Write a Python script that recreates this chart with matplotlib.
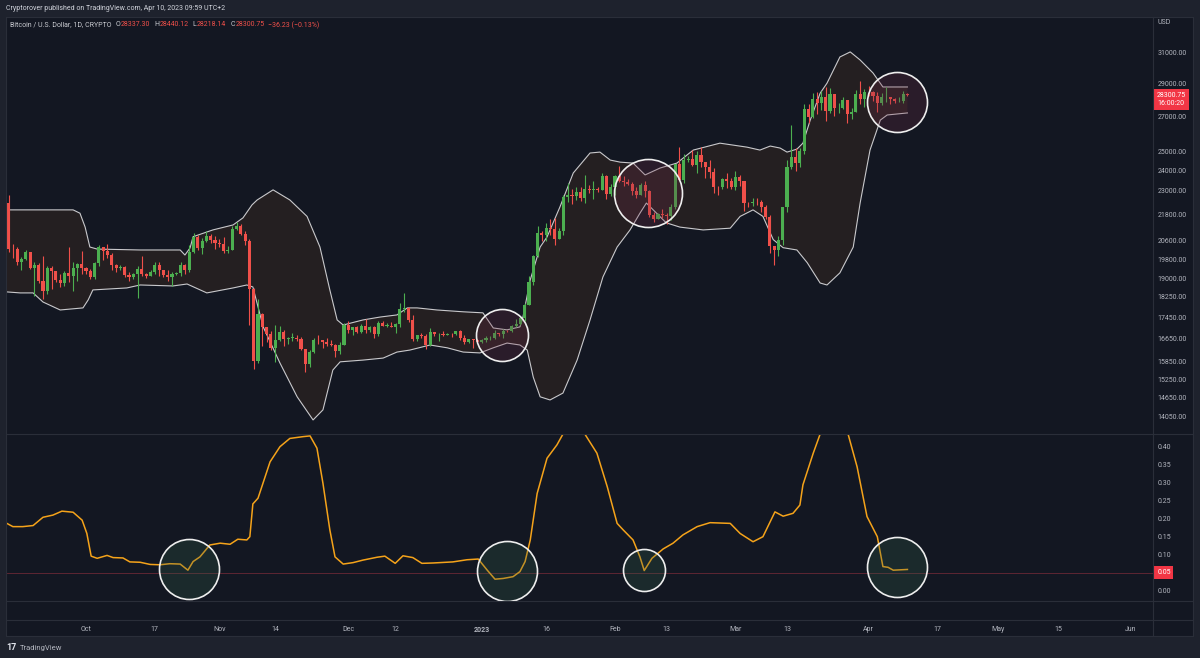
import numpy as np
import pandas as pd
import matplotlib
matplotlib.use('Agg')
import matplotlib.pyplot as plt
from matplotlib.ticker import FixedLocator, NullLocator, FuncFormatter, NullFormatter
from matplotlib.transforms import blended_transform_factory
from matplotlib.patches import Rectangle
from matplotlib.lines import Line2D

plt.rcParams['font.family'] = ['Roboto', 'DejaVu Sans']

W, H = 1200, 658
BG = '#131722'
FRAME = '#1e222d'
SEP = '#2a2e39'
TXT = '#b2b5be'
UP = '#4caf50'
DN = '#f0504a'

# daily candles, Sep 13 2022 .. Apr 10 2023
dates = pd.date_range('2022-09-13', '2023-04-10', freq='D')
base = pd.Timestamp('2022-10-01')

sep_o = [22390, 20250, 20230, 19700, 19800, 20110, 19420, 19540, 18880, 18490, 19410, 19290, 18920, 18800, 19220, 19080, 19410, 19590]
sep_h = [22780, 20480, 20350, 19890, 20190, 20110, 19680, 19620, 19950, 19490, 19490, 19310, 19170, 19310, 20340, 19680, 19620, 20170]
sep_l = [20120, 19870, 19570, 19330, 19760, 19390, 18270, 18790, 18150, 18370, 18540, 18840, 18630, 18690, 18840, 18480, 18890, 19180]
sep_c = [20250, 20230, 19700, 19800, 20110, 19420, 19540, 18880, 18490, 19410, 19290, 18920, 18800, 19220, 19080, 19410, 19590, 19430]

oct_o = [19430, 19310, 19060, 19620, 20340, 20160, 19960, 19530, 19420, 19450, 19130, 19060, 19160, 19380, 19180, 19070, 19270, 19550, 19330, 19120, 19040, 19170, 19210, 19570, 19330, 20090, 20770, 20290, 20600, 20810, 20630]
oct_h = [19480, 19400, 19690, 20440, 20350, 20450, 20050, 19600, 19550, 19520, 19250, 19220, 19500, 19950, 19230, 19360, 19670, 19700, 19350, 19340, 19250, 19250, 19700, 19600, 20400, 20980, 20860, 20740, 21070, 20900, 20840]
oct_l = [19160, 18960, 18970, 19500, 19760, 19860, 19340, 19260, 19320, 19030, 18870, 18980, 18200, 19080, 18990, 19070, 19160, 19100, 19060, 18900, 18660, 19120, 19080, 19160, 19250, 20060, 20220, 20020, 20560, 20520, 20240]
oct_c = [19310, 19060, 19620, 20340, 20160, 19960, 19530, 19420, 19450, 19130, 19060, 19160, 19380, 19180, 19070, 19270, 19550, 19330, 19120, 19040, 19170, 19210, 19570, 19330, 20090, 20770, 20290, 20600, 20810, 20630, 20490]

nov_o = [20490, 20480, 20150, 20210, 21150, 21300, 20920, 20600, 18540, 15880, 17590, 17070, 16810, 16330, 16620, 16900, 16660, 16690, 16700, 16630, 16290, 15780, 16190, 16610, 16600, 16520, 16460, 16440, 16220, 16440]
nov_h = [20690, 20800, 20380, 21300, 21470, 21360, 21050, 20670, 18590, 18150, 17620, 17070, 16920, 17150, 17120, 16960, 16730, 16880, 16800, 16720, 16300, 16250, 16700, 16800, 16610, 16680, 16600, 16480, 16540, 17240]
nov_l = [20350, 20070, 20060, 20190, 21090, 20890, 20400, 17170, 15590, 15800, 16380, 16550, 16240, 15820, 16560, 16400, 16460, 16570, 16560, 16240, 15480, 15650, 16160, 16460, 16340, 16400, 16400, 16000, 16110, 16430]
nov_c = [20480, 20150, 20210, 21150, 21300, 20920, 20600, 18540, 15880, 17590, 17070, 16810, 16330, 16620, 16900, 16660, 16690, 16700, 16630, 16290, 15780, 16190, 16610, 16600, 16520, 16460, 16440, 16220, 16440, 17170]

dec_o = [17170, 16980, 17090, 16890, 17110, 16970, 17090, 16840, 17230, 17130, 17130, 17090, 17210, 17780, 17810, 17360, 16630, 16780, 16740, 16440, 16900, 16820, 16830, 16780, 16840, 16830, 16920, 16700, 16550, 16630, 16600]
dec_h = [17310, 17100, 17140, 17190, 17400, 17110, 17140, 17300, 17300, 17230, 17270, 17240, 18000, 18390, 17840, 17530, 16800, 16860, 16810, 17040, 16900, 16860, 16950, 16860, 16860, 16940, 16960, 16780, 16650, 16640, 16640]
dec_l = [16880, 16800, 16870, 16880, 16870, 16910, 16680, 16740, 17110, 17090, 17070, 16880, 17090, 17670, 17290, 16570, 16590, 16670, 16290, 16400, 16760, 16560, 16760, 16780, 16730, 16780, 16600, 16470, 16490, 16340, 16500]
dec_c = [16980, 17090, 16890, 17110, 16970, 17090, 16840, 17230, 17130, 17130, 17090, 17210, 17780, 17810, 17360, 16630, 16780, 16740, 16440, 16900, 16820, 16830, 16780, 16840, 16830, 16920, 16700, 16550, 16630, 16600, 16540]

jan_o = [16540, 16620, 16680, 16680, 16850, 16830, 16950, 16940, 17120, 17180, 17440, 17940, 18850, 19930, 20950, 20880, 21180, 21130, 20680, 21070, 22670, 22780, 22710, 22920, 22620, 23060, 23010, 23080, 23030, 23740, 22830]
jan_h = [16630, 16760, 16760, 16980, 16880, 17020, 16960, 17170, 17390, 17490, 17990, 19100, 19960, 21260, 21040, 21440, 21620, 21650, 21190, 22740, 23350, 23060, 23160, 23140, 23780, 23260, 23460, 23160, 23900, 23800, 23290]
jan_l = [16500, 16550, 16610, 16660, 16750, 16680, 16900, 16910, 17100, 17150, 17320, 17920, 18720, 19890, 20600, 20610, 20860, 20410, 20670, 20870, 22420, 22320, 22540, 22470, 22370, 22870, 22580, 22890, 23000, 22580, 22730]
jan_c = [16620, 16680, 16680, 16850, 16830, 16950, 16940, 17120, 17180, 17440, 17940, 18850, 19930, 20950, 20880, 21180, 21130, 20680, 21070, 22670, 22780, 22710, 22920, 22620, 23060, 23010, 23080, 23030, 23740, 22830, 23140]

feb_o = [23140, 23730, 23490, 23430, 23330, 22940, 22760, 23240, 22960, 21800, 21630, 21860, 21790, 21770, 22200, 24330, 23520, 24570, 24630, 24280, 24840, 24440, 24190, 23940, 23180, 23160, 23550, 23490]
feb_h = [23780, 24230, 23710, 23580, 23420, 23160, 23360, 23450, 22990, 21930, 21900, 22080, 21890, 22310, 24370, 25250, 24880, 24760, 25130, 25070, 25250, 24470, 24590, 24130, 23200, 23640, 23860, 23600]
feb_l = [22780, 23430, 23230, 23260, 22760, 22640, 22750, 22680, 21700, 21480, 21600, 21640, 21370, 21540, 22060, 23500, 23380, 24460, 24250, 23880, 24170, 23610, 23640, 22860, 22750, 23070, 23110, 23040]
feb_c = [23730, 23490, 23430, 23330, 22940, 22760, 23240, 22960, 21800, 21630, 21860, 21790, 21770, 22200, 24330, 23520, 24570, 24630, 24280, 24840, 24440, 24190, 23940, 23180, 23160, 23550, 23490, 23150]

mar_o = [23150, 23650, 23470, 22360, 22350, 22430, 22410, 22200, 21700, 20360, 20190, 20630, 22160, 24200, 24750, 24380, 25050, 27420, 26960, 28040, 27780, 28180, 27300, 28350, 27490, 27490, 27990, 27140, 27270, 28350, 28030]
mar_h = [23960, 23780, 23480, 22410, 22620, 22600, 22540, 22270, 21810, 20380, 20840, 22180, 24540, 26500, 25230, 25200, 27770, 27730, 28440, 28480, 28530, 28780, 28720, 28380, 27780, 28180, 28000, 27510, 28630, 29170, 28650]
mar_l = [23030, 23210, 21990, 22160, 22220, 22280, 21950, 21610, 20050, 19570, 19920, 20440, 21920, 24090, 23960, 24200, 24900, 26630, 26910, 27160, 27370, 26720, 27180, 27050, 27200, 27440, 26600, 26830, 27250, 27750, 27560]
mar_c = [23650, 23470, 22360, 22350, 22430, 22410, 22200, 21700, 20360, 20190, 20630, 22160, 24200, 24750, 24380, 25050, 27420, 26960, 28040, 27780, 28180, 27300, 28350, 27490, 27490, 27990, 27140, 27270, 28350, 28030, 28480]

apr_o = [28480, 28450, 28200, 27800, 28170, 28180, 28040, 27920, 27950, 28337.30]
apr_h = [28820, 28530, 28480, 28440, 28770, 28190, 28100, 28170, 28530, 28440.12]
apr_l = [28260, 27900, 27280, 27680, 27840, 27730, 27780, 27880, 27800, 28218.14]
apr_c = [28450, 28200, 27800, 28170, 28180, 28040, 27920, 27950, 28337.30, 28300.75]

opens = sep_o + oct_o + nov_o + dec_o + jan_o + feb_o + mar_o + apr_o
highs = sep_h + oct_h + nov_h + dec_h + jan_h + feb_h + mar_h + apr_h
lows = sep_l + oct_l + nov_l + dec_l + jan_l + feb_l + mar_l + apr_l
closes = sep_c + oct_c + nov_c + dec_c + jan_c + feb_c + mar_c + apr_c

# bollinger band outline (days from Oct 1, price)
upper_days = [-18.4, -3.0, -1.4, -0.2, 0.9, 2.6, 12.6, 21.9, 23.0, 24.2, 24.9, 29.5, 34.2, 36.5, 38.6, 39.8, 43.5,
              47.4, 51.4, 54.4, 56.7, 58.4, 59.8, 64.4, 68.4, 72.3, 74.7, 77.0, 81.6, 87.7, 92.3, 94.7, 97.9,
              100.9, 101.6, 103.3, 105.6, 107.2, 110.2, 113.3, 117.2, 119.5, 121.9, 124.2, 127.2, 130.0, 133.5,
              137.4, 141.2, 147.4, 153.7, 156.7, 159.1, 161.4, 163.0, 165.3, 166.7, 168.4, 170.7, 172.3, 175.3,
              177.7, 180.0, 183.0, 185.3, 191.0]
upper_vals = [22040, 22040, 21880, 21230, 20330, 20240, 20200, 20200, 19980, 20290, 20790, 21100, 21330, 21660, 22280, 22520, 23020,
              22520, 21730, 20330, 18520, 17350, 17160, 17350, 17460, 17540, 17810, 17810, 17730, 17660, 17620, 17050, 16980,
              17090, 17460, 18930, 20330, 20780, 22180, 23880, 24940, 24990, 24560, 24450, 24400, 23780, 24140,
              24400, 25100, 25480, 25260, 25100, 25320, 25210, 24990, 25150, 25480, 26790, 28400, 29030, 30730,
              31070, 30530, 29680, 28790, 28790]
lower_days = [-18.4, -15.3, -12.3, -10.0, -6.0, -0.7, 0.5, 1.6, 9.5, 12.6, 20.2, 23.5, 28.1, 34.2, 37.4, 38.8, 41.2,
              45.1, 49.1, 52.8, 55.1, 57.4, 59.1, 64.4, 69.1, 72.3, 75.3, 80.0, 84.0, 87.7, 91.6, 94.7, 97.9,
              100.9, 102.6, 104.0, 105.6, 107.9, 110.9, 114.2, 117.2, 120.2, 123.5, 126.5, 128.8, 130.3, 134.9,
              138.1, 143.5, 149.8, 152.1, 155.1, 157.4, 159.8, 162.1, 165.3, 167.7, 170.7, 172.3, 175.3, 178.4,
              180.0, 182.3, 184.7, 186.3, 191.0]
lower_vals = [18440, 18400, 18400, 18040, 17730, 17810, 18120, 18520, 18600, 18720, 18680, 18760, 18400, 18600, 18720, 18640, 17090,
              15800, 14680, 13960, 14270, 15560, 15840, 15900, 15970, 16180, 16250, 16430, 16330, 16180, 16150, 16330, 16500,
              16430, 16250, 15320, 14680, 14580, 14800, 15900, 17350, 19050, 20330, 21100, 21880, 22370, 21430,
              21230, 21100, 21180, 21730, 22040, 21730, 20660, 20300, 20200, 19650, 18800, 18720, 19220, 20330,
              22370, 25100, 26790, 27090, 27210]

# band width indicator
bbw_days = [-18.4, -17.0, -14.7, -12.3, -10.0, -7.7, -5.6, -3.0, -0.9, 0.2, 1.2, 2.6, 4.9, 6.3, 8.6, 10.2, 12.6,
            14.9, 17.2, 19.5, 21.9, 23.7, 24.9, 26.5, 28.8, 31.2, 33.5, 35.3, 37.4, 38.1, 38.8, 40.0, 42.8,
            45.1, 47.4, 50.5, 52.1, 53.7, 55.1, 56.7, 57.9, 59.8, 62.1, 64.4, 67.7, 69.5, 71.9, 73.7, 76.0,
            78.1, 80.7, 85.3, 88.6, 91.2, 93.3, 95.1, 97.0, 99.3, 100.9, 102.1, 103.3, 104.9, 107.2, 109.5,
            110.9, 113.7, 116.0, 118.8, 121.2, 123.5, 124.9, 127.2, 128.8, 129.8, 131.6, 134.2, 136.5, 138.8,
            142.1, 145.1, 149.8, 152.1, 155.1, 157.4, 160.2, 162.1, 164.4, 166.0, 166.7, 169.1, 170.7, 174.0,
            177.2, 179.3, 181.6, 184.0, 185.3, 186.5, 187.7, 191.0]
bbw_vals = [0.187, 0.178, 0.178, 0.181, 0.204, 0.210, 0.221, 0.218, 0.196, 0.159, 0.096, 0.090, 0.098, 0.092, 0.091, 0.080, 0.079,
            0.073, 0.072, 0.075, 0.074, 0.057, 0.081, 0.094, 0.127, 0.132, 0.129, 0.143, 0.141, 0.150, 0.241, 0.257, 0.358,
            0.400, 0.423, 0.428, 0.430, 0.396, 0.298, 0.169, 0.094, 0.074, 0.078, 0.085, 0.093, 0.096, 0.076, 0.097, 0.092,
            0.076, 0.077, 0.080, 0.086, 0.088, 0.057, 0.032, 0.034, 0.039, 0.053, 0.081, 0.141, 0.270, 0.368, 0.405,
            0.435, 0.470, 0.435, 0.382, 0.289, 0.187, 0.169, 0.141, 0.094, 0.056, 0.090, 0.116, 0.132, 0.155,
            0.178, 0.189, 0.187, 0.159, 0.136, 0.150, 0.219, 0.207, 0.215, 0.238, 0.294, 0.382, 0.435, 0.490,
            0.435, 0.344, 0.206, 0.150, 0.067, 0.065, 0.057, 0.059]
bbw_level = 0.05

# highlight circles (day, value, radius px)
price_circles = [(96.7, 16800, 26), (130.7, 22870, 34), (188.6, 27870, 30)]
bbw_circles = [(24.0, 0.060, 30), (97.9, 0.055, 30), (129.8, 0.058, 21), (188.6, 0.066, 30)]

price_ticks = [31000, 29000, 27000, 25000, 24000, 23000, 21800, 20600, 19800, 19000, 18250,
               17450, 16650, 15850, 15250, 14650, 14050]
bbw_ticks = [0.40, 0.35, 0.30, 0.25, 0.20, 0.15, 0.10, 0.00]
date_ticks = ['2022-10-01', '2022-10-17', '2022-11-01', '2022-11-14', '2022-12-01', '2022-12-12',
              '2023-01-01', '2023-01-16', '2023-02-01', '2023-02-13', '2023-03-01', '2023-03-13',
              '2023-04-01', '2023-04-17', '2023-05-01', '2023-05-15', '2023-06-01']
date_labels = ['Oct', '17', 'Nov', '14', 'Dec', '12', '2023', '16', 'Feb', '13', 'Mar', '13',
               'Apr', '17', 'May', '15', 'Jun']


def box(l, t, r, b):
    return [l / W, 1 - b / H, (r - l) / W, (b - t) / H]


fig = plt.figure(figsize=(W / 100, H / 100), dpi=100, facecolor=FRAME)
fig.patches.append(Rectangle((6 / W, 1 - 636 / H), (1193 - 6) / W, (636 - 17) / H,
                             transform=fig.transFigure, fc=BG, ec='none', zorder=-5))

ax = fig.add_axes(box(6, 17, 1153, 434))
ax2 = fig.add_axes(box(6, 434, 1153, 601))
ax3 = fig.add_axes(box(6, 601, 1153, 620))
xlim = (-18.6, 248.1)
for a in (ax, ax2, ax3):
    a.set_facecolor(BG)
    a.set_xlim(*xlim)
    for s in a.spines.values():
        s.set_visible(False)
    a.tick_params(axis='x', length=0, labelbottom=False)

# ---- price pane
x = np.asarray((dates - base).days, dtype=float)
o = np.array(opens); h = np.array(highs); l = np.array(lows); c = np.array(closes)
cols = np.where(c >= o, UP, DN)

ax.set_yscale('log')
ax.set_ylim(13540, 33520)
ax.fill(np.concatenate([upper_days, lower_days[::-1]]),
        np.concatenate([upper_vals, lower_vals[::-1]]), color='#241f21', lw=0, zorder=1)
ax.plot(upper_days, upper_vals, color='#c9c9cc', lw=0.8, zorder=2)
ax.plot(lower_days, lower_vals, color='#c9c9cc', lw=0.8, zorder=2)
ax.vlines(x, l, h, colors=cols, lw=0.8, zorder=3)
ax.bar(x, np.maximum(np.abs(c - o), 15), bottom=np.minimum(o, c), width=0.72,
       color=cols, lw=0, zorder=3)
for d, v, r in price_circles:
    ax.scatter([d], [v], s=(2 * r * 0.72) ** 2, facecolors=[(0.44, 0.17, 0.27, 0.25)],
               edgecolors='#eeeeee', linewidths=1.2, zorder=4)

ax.yaxis.tick_right()
ax.yaxis.set_major_locator(FixedLocator(price_ticks))
ax.yaxis.set_minor_locator(NullLocator())
ax.yaxis.set_minor_formatter(NullFormatter())
ax.yaxis.set_major_formatter(FuncFormatter(lambda v, p: f'{v:.2f}'))
ax.tick_params(axis='y', length=0, pad=3.5, labelsize=5, labelcolor=TXT)

blend = blended_transform_factory(ax.transAxes, ax.transData)
ax.annotate(f'{closes[-1]:.2f}\n16:00:20', xy=(1, closes[-1]), xycoords=blend,
            xytext=(3, 2), textcoords='offset points', ha='left', va='top',
            color='white', fontsize=5, linespacing=1.2, annotation_clip=False,
            bbox=dict(boxstyle='square,pad=0.45', fc='#f23645', ec='none'))

# ---- band width pane
ax2.set_ylim(-0.0286, 0.4353)
ax2.axhline(bbw_level, color='#5e2633', lw=0.7, zorder=1)
ax2.plot(bbw_days, bbw_vals, color='#f5a31a', lw=1.1, zorder=3)
for d, v, r in bbw_circles:
    ax2.scatter([d], [v], s=(2 * r * 0.72) ** 2, facecolors=[(0.2, 0.39, 0.3, 0.25)],
                edgecolors='#eeeeee', linewidths=1.2, zorder=4)
ax2.yaxis.tick_right()
ax2.set_yticks(bbw_ticks)
ax2.yaxis.set_major_formatter(FuncFormatter(lambda v, p: f'{v:.2f}'))
ax2.tick_params(axis='y', length=0, pad=3.5, labelsize=5, labelcolor=TXT)
blend2 = blended_transform_factory(ax2.transAxes, ax2.transData)
ax2.annotate(f'{bbw_level:.2f}', xy=(1, bbw_level), xycoords=blend2, xytext=(3, 0),
             textcoords='offset points', ha='left', va='center', color='white', fontsize=5,
             annotation_clip=False, bbox=dict(boxstyle='square,pad=0.4', fc='#f23645', ec='none'))

# ---- time axis
ax3.set_yticks([])
tick_x = [(pd.Timestamp(d) - base).days for d in date_ticks]
ax3.set_xticks(tick_x)
ax3.set_xticklabels(date_labels)
ax3.tick_params(axis='x', length=0, pad=4, labelbottom=True, labelsize=5, labelcolor=TXT)
for t in ax3.get_xticklabels():
    if t.get_text() == '2023':
        t.set_fontweight('bold')

# separators
for yy in (17, 434, 601, 620, 636):
    fig.add_artist(Line2D([6 / W, 1193 / W], [1 - yy / H] * 2, transform=fig.transFigure, color=SEP, lw=0.8))
for xx in (6, 1153, 1193):
    fig.add_artist(Line2D([xx / W] * 2, [1 - 17 / H, 1 - 636 / H], transform=fig.transFigure, color=SEP, lw=0.8))

# header / footer text
fig.text(6 / W, 1 - 8.5 / H, 'Cryptorover published on TradingView.com, Apr 10, 2023 09:59 UTC+2',
         color='#d1d4dc', fontsize=5, va='center')
LBL = '#c8cad0'
hdr = [('Bitcoin / U.S. Dollar, 1D, CRYPTO', LBL, 4),
       ('O', LBL, 0.5), ('28337.30', DN, 4),
       ('H', LBL, 0.5), ('28440.12', DN, 4),
       ('L', LBL, 0.5), ('28218.14', DN, 4),
       ('C', LBL, 0.5), ('28300.75', DN, 4),
       ('\u221236.23 (\u22120.13%)', DN, 0)]
renderer = fig.canvas.get_renderer()
xx = 10
for s, col, gap in hdr:
    t = fig.text(xx / W, 1 - 25 / H, s, color=col, fontsize=5, va='center')
    xx = t.get_window_extent(renderer).x1 + gap
fig.text(1158 / W, 1 - 23 / H, 'USD', color=TXT, fontsize=5, va='center')
fig.text(6 / W, 1 - 648 / H, '17', color='#e0e3eb', fontsize=6.5, fontweight='bold', va='center')
fig.text(20 / W, 1 - 648 / H, 'TradingView', color=TXT, fontsize=5.5, va='center')

fig.savefig('out.png', dpi=100, facecolor=FRAME)
